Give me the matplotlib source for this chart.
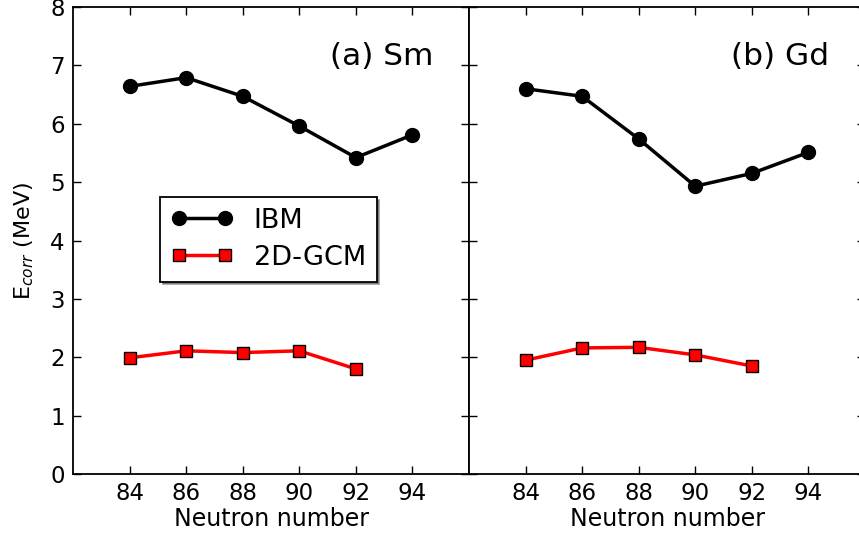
import matplotlib
matplotlib.use("Agg")
import matplotlib.pyplot as plt

neutrons = [84, 86, 88, 90, 92, 94]
sm_ibm = [6.64, 6.79, 6.47, 5.96, 5.42, 5.81]
sm_gcm = [1.99, 2.11, 2.08, 2.11, 1.80]
gd_ibm = [6.60, 6.47, 5.74, 4.93, 5.15, 5.51]
gd_gcm = [1.95, 2.16, 2.17, 2.04, 1.85]
panel_titles = ["(a) Sm", "(b) Gd"]
xticks = [84, 86, 88, 90, 92, 94]

plt.rcParams['font.family'] = ['DejaVu Sans']
fig = plt.figure(figsize=(8.59, 5.42), dpi=100)
W, H = 859, 542
axL = fig.add_axes([73 / W, 1 - 474 / H, 396 / W, 467 / H])
axR = fig.add_axes([469 / W, 1 - 474 / H, 396 / W, 467 / H], sharey=axL)

datasets = [(axL, sm_ibm, sm_gcm, panel_titles[0]), (axR, gd_ibm, gd_gcm, panel_titles[1])]
for ax, ibm, gcm, title in datasets:
    ax.plot(neutrons[:len(ibm)], ibm, '-o', color='black', lw=2.5, ms=10, label='IBM')
    ax.plot(neutrons[:len(gcm)], gcm, '-s', color='red', lw=2.5, ms=8,
            mfc='red', mec='black', mew=1, label='2D-GCM')
    ax.set_xlim(82, 96)
    ax.set_ylim(0, 8)
    ax.set_xticks(xticks)
    ax.set_yticks(range(0, 9))
    ax.tick_params(direction='in', top=True, right=True, length=6, width=1,
                   labelsize=16.5, pad=6)
    for s in ax.spines.values():
        s.set_linewidth(1.3)
    ax.set_xlabel('Neutron number', fontsize=17, labelpad=1)
    ax.text(0.91, 0.895, title, transform=ax.transAxes, fontsize=22.5,
            ha='right', va='center')

axR.tick_params(labelleft=False)
axL.set_ylabel(r'E$_{corr}$ (MeV)', fontsize=16, labelpad=10)

leg = axL.legend(loc='upper left', bbox_to_anchor=(0.22, 0.593), borderaxespad=0,
                 fontsize=19.5, numpoints=2, fancybox=False, shadow=True,
                 frameon=True, handlelength=2.3, borderpad=0.4, labelspacing=0.4,
                 handletextpad=0.75)
leg.get_frame().set_edgecolor('black')
leg.get_frame().set_linewidth(1.3)

fig.savefig('out.png', dpi=100)
